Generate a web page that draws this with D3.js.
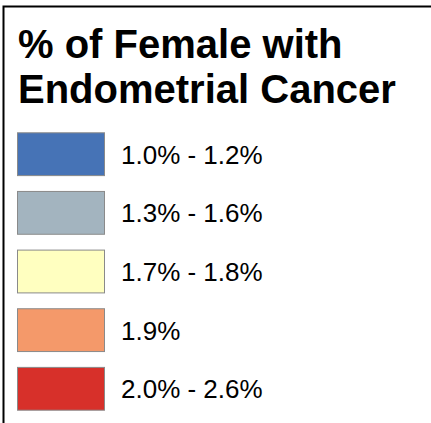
<!DOCTYPE html>
<html><head><meta charset="utf-8">
<script src="https://cdn.jsdelivr.net/npm/d3@7"></script>
<style>html,body{margin:0;padding:0;background:#fff;}svg{display:block;}</style>
</head><body>
<script>
const titleLines = ["% of Female with", "Endometrial Cancer"];
const categories = ["1.0% - 1.2%", "1.3% - 1.6%", "1.7% - 1.8%", "1.9%", "2.0% - 2.6%"];
const colors = ["#4673b6", "#a3b4bf", "#ffffc0", "#f4996a", "#d7302a"];

const W = 431, H = 423;
const svg = d3.select("body").append("svg").attr("width", W).attr("height", H);

svg.append("path")
  .attr("d", `M3.5,${H} L3.5,6.5 L${W},6.5`)
  .attr("fill", "none").attr("stroke", "#000").attr("stroke-width", 2);

svg.selectAll("text.title").data(titleLines).enter().append("text")
  .attr("class", "title")
  .attr("x", 18).attr("y", (d, i) => 57.5 + i * 45.5)
  .attr("font-family", "Liberation Sans, Arial, sans-serif")
  .attr("font-weight", "bold").attr("font-size", 40)
  .attr("fill", "#000").text(d => d);

const y = d3.scaleBand().domain(categories).range([124, 419]).paddingInner(0.27).paddingOuter(0.15);

const g = svg.selectAll("g.item").data(categories).enter().append("g").attr("class", "item");
g.append("rect")
  .attr("x", 17.5).attr("y", d => y(d))
  .attr("width", 87).attr("height", y.bandwidth())
  .attr("fill", (d, i) => colors[i]).attr("stroke", "#8a8a8a").attr("stroke-width", 1);
g.append("text")
  .attr("x", 121).attr("y", d => y(d) + y.bandwidth() / 2 + 9.5)
  .attr("font-family", "Liberation Sans, Arial, sans-serif")
  .attr("font-size", 26).attr("fill", "#000").text(d => d);
</script>
</body></html>
